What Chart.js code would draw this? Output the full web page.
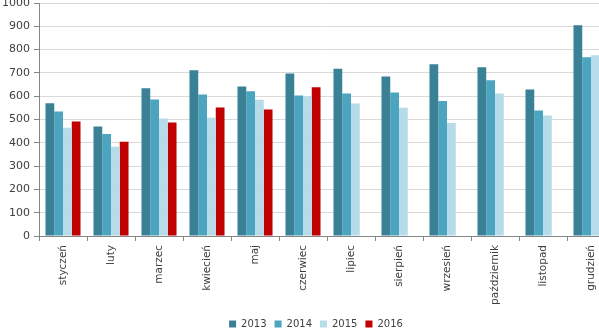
<!DOCTYPE html>
<html>
<head>
<meta charset="utf-8">
<script src="https://cdn.jsdelivr.net/npm/chart.js@4"></script>
<style>
  html, body { margin: 0; padding: 0; background: #fff; overflow: hidden; }
  #wrap { width: 599px; height: 331px; overflow: hidden; }
</style>
</head>
<body>
<div id="wrap"><canvas id="myChart" width="615" height="331"></canvas></div>
<script>
// miesiące
const miesiace = ['styczeń', 'luty', 'marzec', 'kwiecień', 'maj', 'czerwiec',
                  'lipiec', 'sierpień', 'wrzesień', 'październik', 'listopad', 'grudzień'];

// wartości
const dane2013 = [570, 470, 634, 711, 642, 697, 718, 685, 737, 724, 629, 905];
const dane2014 = [534, 438, 586, 607, 621, 603, 612, 616, 579, 668, 539, 767];
const dane2015 = [465, 383, 504, 507, 585, 599, 569, 550, 485, 612, 517, 776];
const dane2016 = [491, 405, 487, 552, 543, 638, null, null, null, null, null, null];

const lata = ['2013', '2014', '2015', '2016'];
const kolory = ['#3a8196', '#4ba5c0', '#b5dce8', '#c00000'];

const osY = { min: 0, max: 1000, krok: 100 };

// przesunięcie legendy trochę w prawo (jak w oryginale)
const przesunLegende = {
    id: 'przesunLegende',
    afterLayout(chart) {
        if (chart.legend) chart.legend.left += 17;
    }
};

function crearGrafico() {
    const ctx = document.getElementById('myChart').getContext('2d');
    const serie = [dane2013, dane2014, dane2015, dane2016];

    const datasets = serie.map((d, i) => ({
        label: lata[i],
        data: d,
        backgroundColor: kolory[i],
        borderWidth: 0,
        categoryPercentage: 0.73,
        barPercentage: 1.0
    }));

    new Chart(ctx, {
        type: 'bar',
        data: { labels: miesiace, datasets: datasets },
        plugins: [przesunLegende],
        options: {
            responsive: false,
            animation: false,
            layout: { padding: { top: 3, left: 0, right: 0, bottom: -8 } },
            scales: {
                x: {
                    offset: true,
                    grid: {
                        offset: true,
                        drawOnChartArea: false,
                        drawTicks: true,
                        tickLength: 5,
                        tickColor: '#868686'
                    },
                    border: { color: '#868686' },
                    ticks: {
                        minRotation: 90,
                        maxRotation: 90,
                        padding: 4,
                        color: '#404040',
                        font: { family: 'DejaVu Sans', size: 10.5 }
                    },
                    afterFit(scale) { scale.height = 75; }
                },
                y: {
                    min: osY.min,
                    max: osY.max,
                    ticks: {
                        stepSize: osY.krok,
                        padding: 4,
                        color: '#404040',
                        font: { family: 'DejaVu Sans', size: 11 },
                        callback: (v) => String(v)
                    },
                    grid: {
                        color: '#d9d9d9',
                        tickColor: '#868686',
                        tickLength: 5
                    },
                    border: { color: '#868686' },
                    afterFit(scale) {
                        scale.width = 39;
                        scale.paddingTop = 0;
                        scale.paddingBottom = 0;
                    }
                }
            },
            plugins: {
                legend: {
                    position: 'bottom',
                    onClick: null,
                    labels: {
                        boxWidth: 7,
                        boxHeight: 7,
                        padding: 8,
                        color: '#404040',
                        font: { family: 'DejaVu Sans', size: 10 }
                    }
                },
                tooltip: { enabled: false }
            }
        }
    });
}

crearGrafico();
</script>
</body>
</html>
